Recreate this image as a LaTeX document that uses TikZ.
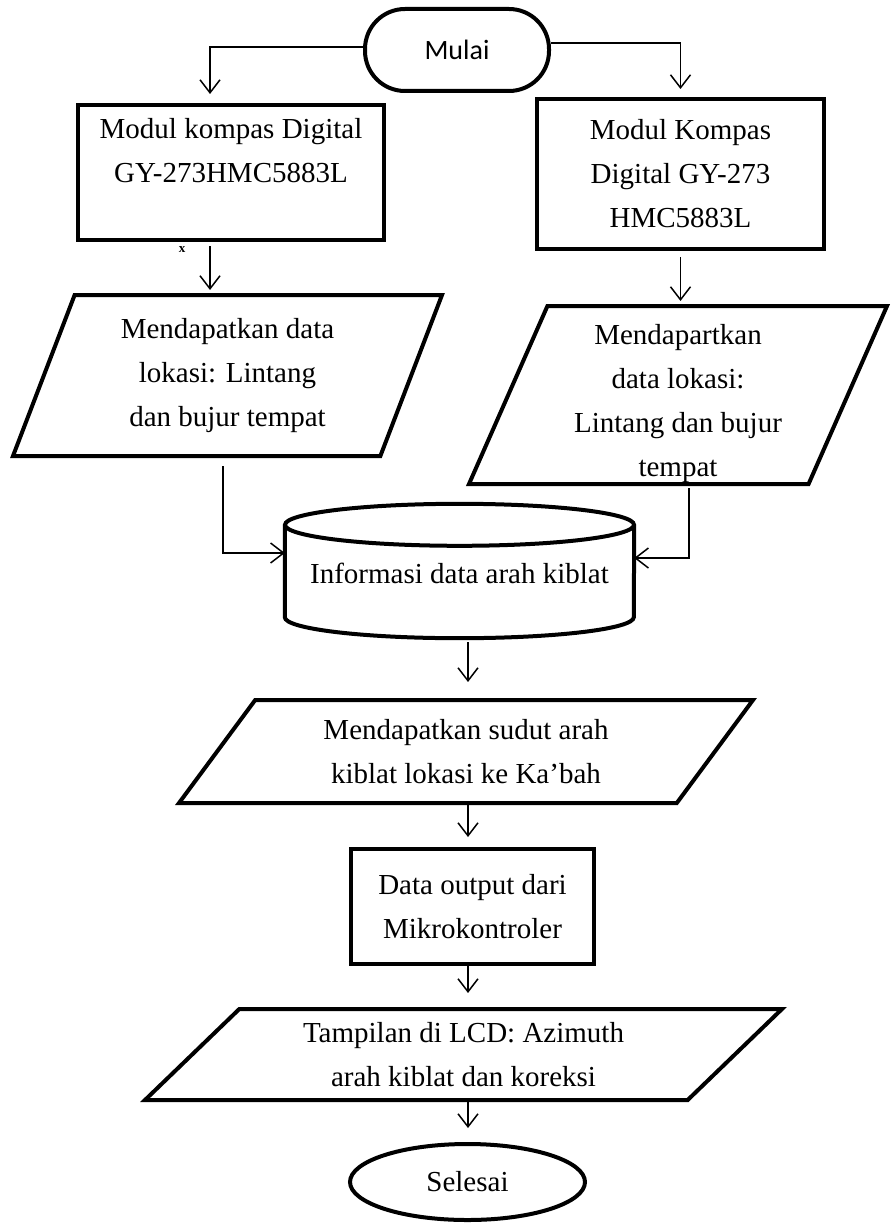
\documentclass[tikz,border=0pt]{standalone}
\usepackage{fontspec}
\setmainfont{Liberation Serif}
\newfontfamily\mulaifont{Carlito}
\usetikzlibrary{shapes.geometric}
\usetikzlibrary{arrows.meta}

\begin{document}
\begin{tikzpicture}[x=1pt,y=-1pt,
  teks/.style={align=center,font=\fontsize{29}{44}\selectfont},
  proses/.style={draw,line width=4pt,rectangle,teks},
  masukan/.style={draw,line width=4pt,trapezium,trapezium stretches body,teks},
  ujung/.style={draw,line width=4pt,align=center},
  panah/.style={line width=1.5pt,-{Straight Barb[length=13pt,width=20pt]}},
]
  \def\tebal{4pt};
  \def\ryinfo{21pt};
  \def\rxinfo{174.5pt};
  \useasboundingbox (0,0) rectangle (893,1225);
  % kolom panah
  \coordinate (kiri) at (210,0);
  \coordinate (kirib) at (223,0);
  \coordinate (kananb) at (689,0);
  \coordinate (tengah) at (468,0);
  %\draw[red] (0,0) rectangle (893,1225);
  \node[ujung,rounded corners=40pt,minimum width=184pt,minimum height=82pt,font=\mulaifont\fontsize{28}{34}\selectfont] (mulai) at (457,50) {Mulai};
  \node[font=\bfseries\fontsize{13}{13}\selectfont,inner sep=0pt] (tanda) at (182,250) {x};
  \node[proses,minimum width=306pt,minimum height=135pt] (modulA) at (231,172.5) {Modul kompas Digital\\GY-273HMC5883L\\~};
  \node[proses,minimum width=287pt,minimum height=150pt] (modulB) at (680.5,174) {Modul Kompas\\Digital GY-273\\HMC5883L};
  \node[masukan,trapezium left angle=63,trapezium right angle=117,minimum width=429pt,minimum height=161pt] (lokasiA) at (227.5,375.5) {Mendapatkan data\\lokasi: Lintang\\dan bujur tempat};
  \node[masukan,inner ysep=0pt,trapezium left angle=66,trapezium right angle=114,minimum width=418pt,minimum height=178pt] (lokasiB) at (678,395) {\rule{0pt}{38pt}Mendapartkan\\data lokasi:\\Lintang dan bujur\\tempat};
  % tabung
  \node[teks,minimum width=349pt,minimum height=134pt,text height=30pt,text depth=6pt] (info) at (459.5,571) {Informasi data arah kiblat};
  \draw[line width=\tebal] ([yshift=-\ryinfo]info.north west) -- ([yshift=\ryinfo]info.south west)
    arc[start angle=180,end angle=360,x radius=\rxinfo,y radius=\ryinfo] -- ([yshift=-\ryinfo]info.north east);
  \draw[line width=\tebal] ([yshift=-\ryinfo]info.north) ellipse[x radius=\rxinfo,y radius=\ryinfo];
  \node[masukan,trapezium left angle=43,trapezium right angle=137,minimum width=574pt,minimum height=103pt] (sudut) at (466,751.5) {Mendapatkan sudut arah\\kiblat lokasi ke Ka’bah};
  \node[proses,minimum width=243pt,minimum height=115pt] (output) at (472.5,906.5) {Data output dari\\Mikrokontroler};
  \node[masukan,trapezium left angle=37,trapezium right angle=143,minimum width=637pt,minimum height=91pt] (tampil) at (463.5,1054.5) {Tampilan di LCD: Azimuth\\arah kiblat dan koreksi};
  \node[ujung,ellipse,minimum width=235pt,minimum height=76pt,font=\fontsize{29}{44}\selectfont] (selesai) at (467.5,1182) {Selesai};
  %panah
  \draw[panah,shorten >=9pt] ([yshift=3pt]mulai.west) -| (modulA.north -| kiri);
  \draw[panah,shorten >=8pt] ([yshift=7pt]mulai.east) -| (modulB.north);
  \draw[panah,shorten <=4pt,shorten >=3pt] (modulA.south -| kiri) -- (lokasiA.north -| kiri);
  \draw[panah,shorten <=6pt,shorten >=3pt] (modulB.south) -- (lokasiB.north -| modulB.south);
  \draw[panah,shorten <=8pt] (lokasiA.south -| kirib) |- ([yshift=18pt]info.west);
  \draw[panah,shorten <=2pt] (lokasiB.south -| kananb) |- ([yshift=13pt]info.east);
  \draw[panah,shorten <=4pt,shorten >=16pt] (info.south -| tengah) -- (sudut.north -| tengah);
  \draw[panah,shorten >=10pt] (sudut.south -| tengah) -- (output.north -| tengah);
  \draw[panah,shorten >=14pt] (output.south -| tengah) -- (tampil.north -| tengah);
  \draw[panah,shorten >=14pt] (tampil.south -| tengah) -- (selesai.north -| tengah);
\end{tikzpicture}
\end{document}
